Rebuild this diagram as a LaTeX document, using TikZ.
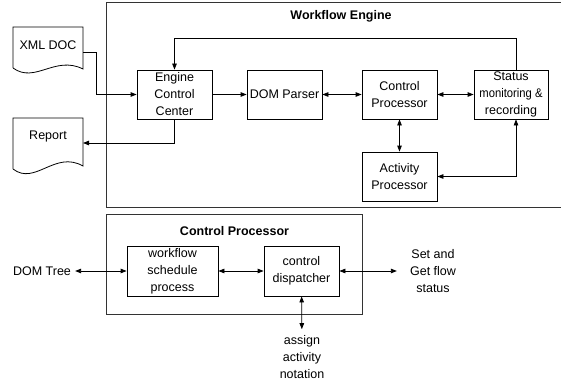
\documentclass[tikz,border=0pt]{standalone}
\usepackage{fontspec}
\setmainfont{Liberation Sans}
\usetikzlibrary{arrows.meta}
\newcommand{\mainsize}{\fontsize{12.5}{17}\selectfont}
\tikzset{
  box/.style={draw, line width=0.8pt, align=center, inner sep=0pt, minimum width=75pt, minimum height=49pt},
  lbl/.style={align=center, inner sep=0pt},
  title/.style={font=\mainsize\bfseries, inner sep=0pt},
  conn/.style={line width=0.8pt},
  arr/.style={conn, -{Triangle[length=6pt,width=4.5pt]}},
  darr/.style={conn, {Triangle[length=6pt,width=4.5pt]}-{Triangle[length=6pt,width=4.5pt]}},
}
\begin{document}
\begin{tikzpicture}[x=1pt,y=-1pt,font=\mainsize]
\useasboundingbox (0,0) rectangle (561,385);
% outer frames
\draw[line width=0.9pt, black!80] (561,2.5) -| (106,207.5) -- (561,207.5);
\draw[line width=0.9pt, black!80] (106,214) rectangle (362,314);
\node[title] (wftitle) at (341,16) {Workflow Engine};
\node[title] (cptitle) at (234.5,231) {Control Processor};
% documents
\draw[line width=0.8pt] (13,68) -- (13,27) -- (83,27) -- (83,69)
  .. controls (55,55) and (35,84) .. (13,68);
\node[lbl] (xmltxt) at (48,45.5) {XML DOC};
\coordinate (xmlout) at (83,52);
\draw[line width=0.8pt] (13,169) -- (13,118) -- (83,118) -- (83,166)
  .. controls (55,150) and (35,186) .. (13,169);
\node[lbl] (reptxt) at (48,136) {Report};
\coordinate (repin) at (83,143);
% top boxes
\node[box] (ecc) at (174.5,94.5) {Engine\\Control\\Center};
\node[box] (dom) at (284.5,94.5) {DOM Parser};
\node[box] (cp) at (399.5,94.5) {Control\\Processor};
\node[box, minimum width=74pt] (st) at (511,94.5) {Status\\\scalebox{0.9}[1]{monitoring \&}\\recording};
\node[box] (act) at (399.5,176.5) {Activity\\Processor};
% top connectors
\draw[arr] (xmlout) -- (96,52) |- (ecc.west);
\draw[arr] (ecc.south) |- (repin);
\draw[arr] (ecc) -- (dom);
\draw[darr] (dom) -- (cp);
\draw[darr] (cp) -- (st);
\draw[darr] (cp) -- (act);
\draw[arr] ([xshift=5pt]st.north) |- (ecc.north |- 0,38) -- (ecc.north);
\draw[darr] (act.east) -| ([xshift=5pt]st.south);
% bottom
\node[box, minimum width=91pt, minimum height=50pt] (wsp) at (172.5,271) {workflow\\schedule\\process};
\node[box, minimum height=50pt] (cd) at (301.5,271) {control\\dispatcher};
\node[lbl, inner xsep=4pt] (domtree) at (42,271) {DOM Tree};
\node[lbl, inner xsep=13pt] (setget) at (433,271) {Set and\\Get flow\\status};
\node[lbl, inner ysep=6pt] (assign) at (302,357) {assign\\activity\\notation};
\draw[darr] (domtree) -- (wsp);
\draw[darr] (wsp) -- (cd);
\draw[darr] (cd) -- (setget.west);
\draw[darr] (cd) -- (assign);
\end{tikzpicture}
\end{document}
